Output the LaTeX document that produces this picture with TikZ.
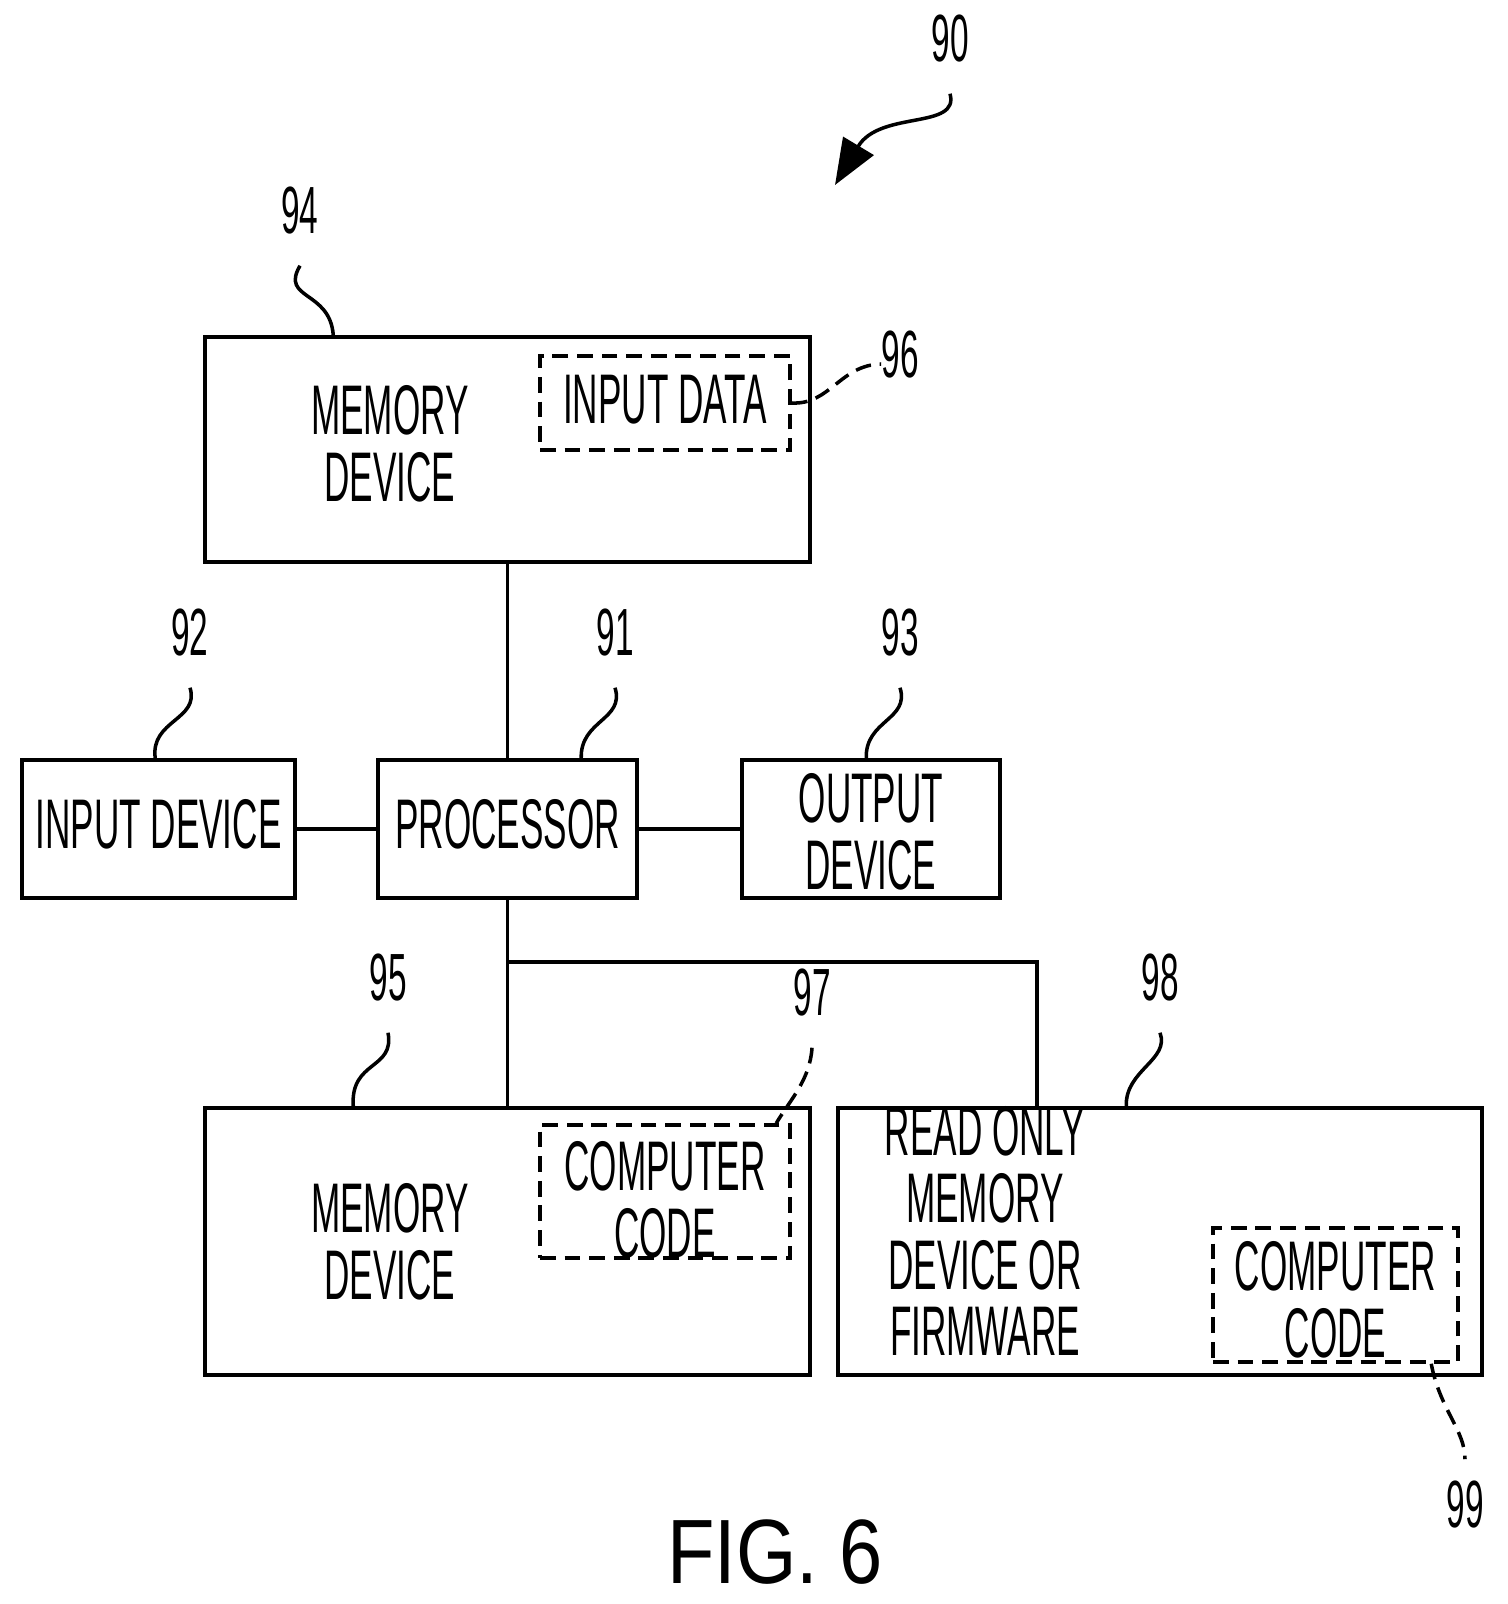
\documentclass[tikz,border=0pt]{standalone}
\usepackage{fontspec}
\setmainfont{Liberation Sans}
\usetikzlibrary{positioning,arrows.meta}
\newcommand{\narrowtxt}[1]{\scalebox{0.5}[1]{\begin{tabular}{@{}c@{}}#1\end{tabular}}}
\tikzset{
  box/.style={draw, line width=2pt, inner sep=0pt},
  dbox/.style={draw, line width=2pt, dashed, dash pattern=on 9pt off 5pt, inner sep=0pt},
  txt/.style={font=\fontsize{40}{34}\selectfont, inner sep=0pt},
  num/.style={font=\fontsize{38}{38}\selectfont, inner sep=0pt},
  lead/.style={line width=2pt},
  dlead/.style={line width=2pt, dash pattern=on 9pt off 5pt},
}
\begin{document}
\begin{tikzpicture}[x=0.02cm,y=-0.02cm]
    \useasboundingbox (0,0) rectangle (1507,1604);
    % boxes
    \node[box, minimum width=12.1cm, minimum height=4.5cm] (mem1) at (507.5,449.5) {};
    \node[dbox, minimum width=5cm, minimum height=1.88cm] (idata) at (665,403) {};
    \node[box, minimum width=5.46cm, minimum height=2.76cm] (indev) at (158.5,829) {};
    \node[box, minimum width=5.18cm, minimum height=2.76cm] (proc) at (507.5,829) {};
    \node[box, minimum width=5.16cm, minimum height=2.76cm] (outdev) at (871,829) {};
    \node[box, minimum width=12.1cm, minimum height=5.34cm] (mem2) at (507.5,1241.5) {};
    \node[dbox, minimum width=5cm, minimum height=2.66cm] (code1) at (665,1191.5) {};
    \node[box, minimum width=12.88cm, minimum height=5.34cm] (rom) at (1160,1241.5) {};
    \node[dbox, minimum width=4.9cm, minimum height=2.68cm] (code2) at (1335.5,1295) {};
    % texts
    \node[txt] (t94) at (390,452) {\narrowtxt{MEMORY\\DEVICE}};
    \node[txt] (t96) at (665,408) {\narrowtxt{INPUT DATA}};
    \node[txt] (t92) at (158.5,833) {\narrowtxt{INPUT DEVICE}};
    \node[txt] (t91) at (507.5,833) {\narrowtxt{PROCESSOR}};
    \node[txt] (t93) at (871,840) {\narrowtxt{OUTPUT\\DEVICE}};
    \node[txt] (t95) at (390,1250) {\narrowtxt{MEMORY\\DEVICE}};
    \node[txt] (t97) at (665,1208) {\narrowtxt{COMPUTER\\CODE}};
    \node[txt] (t98) at (985,1240) {\narrowtxt{READ ONLY\\MEMORY\\DEVICE OR\\FIRMWARE}};
    \node[txt] (t99) at (1335.5,1308) {\narrowtxt{COMPUTER\\CODE}};
    % connectors
    \coordinate (j) at (507.5,962);
    \coordinate (r) at (1037,1108);
    \draw[lead] (mem1.south) -- (proc.north);
    \draw[lead] (indev.east) -- (proc.west);
    \draw[lead] (proc.east) -- (outdev.west);
    \draw[lead] (proc.south) -- (mem2.north);
    \draw[lead] (j) -- (r |- j) -- (r);
    % reference numerals
    \node[num] (n90) at (950,48) {\narrowtxt{90}};
    \node[num] (n94) at (300,220) {\narrowtxt{94}};
    \node[num] (n96) at (900,364) {\narrowtxt{96}};
    \node[num] (n92) at (190,642) {\narrowtxt{92}};
    \node[num] (n91) at (615,642) {\narrowtxt{91}};
    \node[num] (n93) at (900,642) {\narrowtxt{93}};
    \node[num] (n95) at (388,987) {\narrowtxt{95}};
    \node[num] (n97) at (812,1002) {\narrowtxt{97}};
    \node[num] (n98) at (1160,987) {\narrowtxt{98}};
    \node[num] (n99) at (1465,1514) {\narrowtxt{99}};
    \node[font=\fontsize{52}{52}\selectfont, inner sep=0pt] (fig) at (775,1552) {\scalebox{0.85}[1]{FIG. 6}};
    % leaders
    \coordinate (a90) at (835,185);
    \draw[lead, -{Triangle[length=26pt,width=20pt]}] (n90.south) ++(0,12) .. controls (960,130) and (880,110) .. (a90);
    \draw[lead] (n94.south) ++(0,12) .. controls (280,300) and (330,290) .. ([xshift=2.6cm]mem1.north west);
    \draw[dlead] (idata.east) .. controls (830,405) and (840,365) .. (n96.west);
    \draw[lead] (n92.south) ++(0,12) .. controls (200,720) and (150,720) .. ([xshift=2.7cm]indev.north west);
    \draw[lead] (n91.south) ++(0,12) .. controls (625,720) and (580,720) .. ([xshift=4.1cm]proc.north west);
    \draw[lead] (n93.south) ++(0,12) .. controls (910,720) and (865,720) .. ([xshift=2.52cm]outdev.north west);
    \draw[lead] (n95.south) ++(0,12) .. controls (395,1070) and (350,1060) .. ([xshift=3cm]mem2.north west);
    \draw[dlead] (n97.south) ++(0,12) .. controls (810,1080) and (790,1100) .. ([xshift=4.76cm]code1.north west);
    \draw[lead] (n98.south) ++(0,12) .. controls (1170,1060) and (1125,1070) .. ([xshift=5.8cm]rom.north west);
    \draw[dlead] ([xshift=4.4cm]code2.south west) .. controls (1440,1410) and (1465,1430) .. ([yshift=12]n99.north);
\end{tikzpicture}
\end{document}
